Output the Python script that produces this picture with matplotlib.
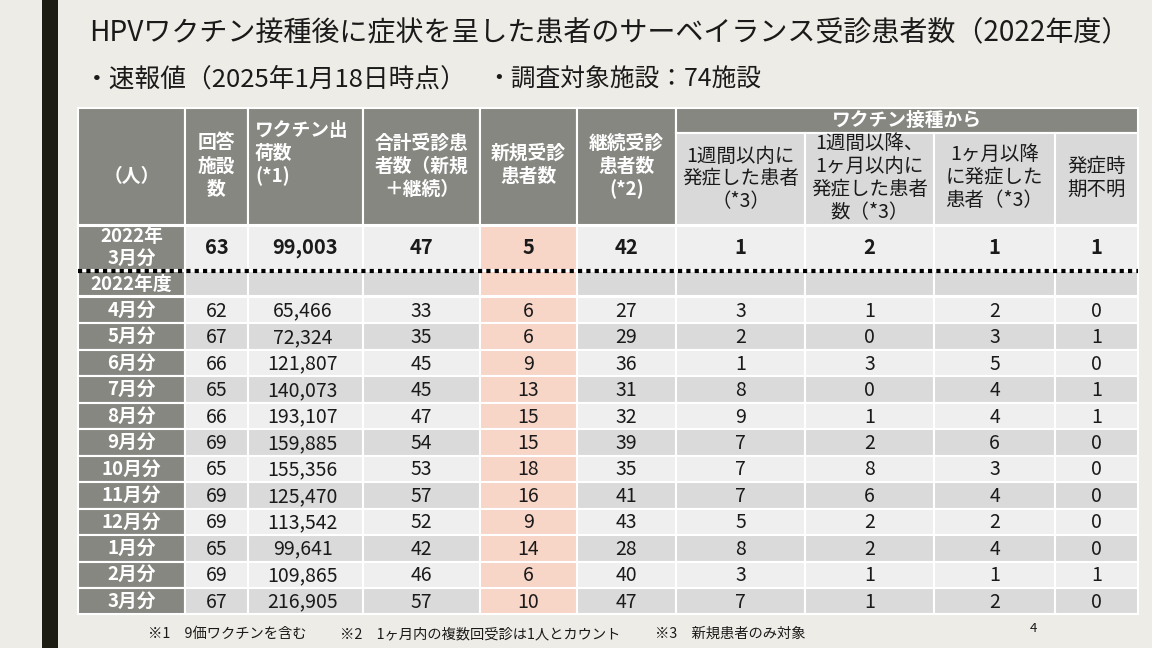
import matplotlib
matplotlib.use('Agg')
import matplotlib.pyplot as plt
from matplotlib.patches import Rectangle

plt.rcParams['font.family'] = ['Noto Sans CJK JP', 'DejaVu Sans']

# ---- data ----
title = "HPVワクチン接種後に症状を呈した患者のサーベイランス受診患者数（2022年度）"
sub1 = "・速報値（2025年1月18日時点）"
sub2 = "・調査対象施設：74施設"

main_headers = ["（人）", "回答\n施設\n数", "ワクチン出\n荷数\n(*1)", "合計受診患\n者数（新規\n＋継続）",
                "新規受診\n患者数", "継続受診\n患者数\n(*2)"]
group_header = "ワクチン接種から"
sub_headers = ["1週間以内に\n発症した患者\n（*3）", "1週間以降、\n1ヶ月以内に\n発症した患者\n数（*3）",
               "1ヶ月以降\nに発症した\n患者（*3）", "発症時\n期不明"]

base_label = "2022年\n3月分"
base_row = [63, 99003, 47, 5, 42, 1, 2, 1, 1]
year_label = "2022年度"

months = ['4月分', '5月分', '6月分', '7月分', '8月分', '9月分', '10月分', '11月分',
          '12月分', '1月分', '2月分', '3月分']
responding = [62, 67, 66, 65, 66, 69, 65, 69, 69, 65, 69, 67]
shipped = [65466, 72324, 121807, 140073, 193107, 159885, 155356, 125470, 113542, 99641, 109865, 216905]
total_pts = [33, 35, 45, 45, 47, 54, 53, 57, 52, 42, 46, 57]
new_pts = [6, 6, 9, 13, 15, 15, 18, 16, 9, 14, 6, 10]
cont_pts = [27, 29, 36, 31, 32, 39, 35, 41, 43, 28, 40, 47]
within_1w = [3, 2, 1, 8, 9, 7, 7, 7, 5, 8, 3, 7]
w1_to_1m = [1, 0, 3, 0, 1, 2, 8, 6, 2, 2, 1, 1]
after_1m = [2, 3, 5, 4, 4, 6, 3, 4, 2, 4, 1, 2]
unknown = [0, 1, 0, 1, 1, 0, 0, 0, 0, 0, 1, 0]

footnotes = ["※1　9価ワクチンを含む", "※2　1ヶ月内の複数回受診は1人とカウント", "※3　新規患者のみ対象"]
page_no = "4"

# ---- style ----
BG = '#EEECE6'
BAR = '#1C1C12'
HEAD = '#878782'
SUBHEAD = '#D9D9D9'
LIGHT = '#EFEFEF'
DARK = '#DADADA'
SALMON = '#F7D5C7'
TXT = '#1A1A1A'

col_edges = [78, 185, 248, 363, 480, 577, 676, 805, 934, 1055, 1138]
NEW_COL = 4

fig = plt.figure(figsize=(11.52, 6.48), dpi=100, facecolor=BG)
ax = fig.add_axes([0, 0, 1, 1])
ax.set_xlim(0, 1152)
ax.set_ylim(648, 0)
ax.axis('off')
ax.set_facecolor(BG)

ax.add_patch(Rectangle((42, 0), 16, 648, color=BAR, lw=0))

ax.text(89, 32, title, fontsize=20.2, color=TXT, va='center', ha='left')
ax.text(84, 80, sub1, fontsize=18.5, color=TXT, va='center', ha='left')
ax.text(486, 80, sub2, fontsize=17.8, color=TXT, va='center', ha='left')


def cell(c0, c1, y0, y1, color):
    ax.add_patch(Rectangle((col_edges[c0], y0), col_edges[c1] - col_edges[c0], y1 - y0,
                           facecolor=color, edgecolor='white', lw=1.5))


def lines(x, yc, text, pitch=23, **kw):
    parts = text.split('\n')
    y = yc - pitch * (len(parts) - 1) / 2
    for p in parts:
        ax.text(x, y, p, va='center', **kw)
        y += pitch


def cx(i):
    return (col_edges[i] + col_edges[i + 1]) / 2


# header
H0, H1 = 108, 225
for i, h in enumerate(main_headers):
    cell(i, i + 1, H0, H1, HEAD)
    if i == 2:
        lines(col_edges[i] + 7, 153, h, color='white', fontsize=13.5, fontweight='bold', ha='left')
    elif i == 4:
        lines(cx(i), 165, h, color='white', fontsize=13.5, fontweight='bold', ha='center')
    else:
        lines(cx(i), 166 if i else 176, h, color='white', fontsize=13.5, fontweight='bold', ha='center')
cell(6, 10, H0, 133, HEAD)
ax.text((col_edges[6] + col_edges[10]) / 2, 120, group_header, color='white', fontsize=13.5,
        fontweight='bold', ha='center', va='center')
sub_y = [179, 178, 177, 178]
for j, h in enumerate(sub_headers):
    cell(6 + j, 7 + j, 133, H1, SUBHEAD)
    lines(cx(6 + j), sub_y[j], h, color=TXT, fontsize=14, ha='center')


def fmt(v):
    return f"{v:,}"


# baseline row (2022年3月分)
B0, B1 = 226, 270
cell(0, 1, B0, B1, HEAD)
lines(cx(0), 247, base_label, pitch=22, color='white', fontsize=13.5, fontweight='bold', ha='center')
for i, v in enumerate(base_row):
    c = i + 1
    cell(c, c + 1, B0, B1, SALMON if c == NEW_COL else LIGHT)
    ax.text(cx(c), 247, fmt(v), color=TXT, fontsize=14.5, fontweight='bold', ha='center', va='center')

# 2022年度 row
Y0, Y1 = 271, 296
cell(0, 1, Y0, Y1, HEAD)
ax.text(cx(0), 284, year_label, color='white', fontsize=13.5, fontweight='bold', ha='center', va='center')
for c in range(1, 10):
    cell(c, c + 1, Y0, Y1, SALMON if c == NEW_COL else SUBHEAD)

ax.plot([col_edges[0], col_edges[-1]], [271, 271], color='black', lw=3, ls=(0, (1, 1)), zorder=5)

# monthly rows
cols = [responding, shipped, total_pts, new_pts, cont_pts, within_1w, w1_to_1m, after_1m, unknown]
R0, pitch = 297, 26.45
for r, m in enumerate(months):
    y0 = R0 + r * pitch
    y1 = y0 + pitch
    yc = (y0 + y1) / 2 + 1
    shade = LIGHT if r % 2 == 0 else DARK
    cell(0, 1, y0, y1, HEAD)
    ax.text(cx(0), yc - 1, m, color='white', fontsize=13.5, fontweight='bold', ha='center', va='center')
    for i, series in enumerate(cols):
        c = i + 1
        cell(c, c + 1, y0, y1, SALMON if c == NEW_COL else shade)
        ax.text(cx(c) - (3 if c == 2 else 0), yc, fmt(series[r]), color=TXT, fontsize=14,
                ha='center', va='center')

# footnotes
for x, t in zip([148, 340, 655], footnotes):
    ax.text(x, 634, t, fontsize=10.3, color=TXT, ha='left', va='center')
ax.text(1033, 628, page_no, fontsize=9.5, color=TXT, ha='center', va='center')

fig.savefig('out.png', dpi=100, facecolor=BG)
